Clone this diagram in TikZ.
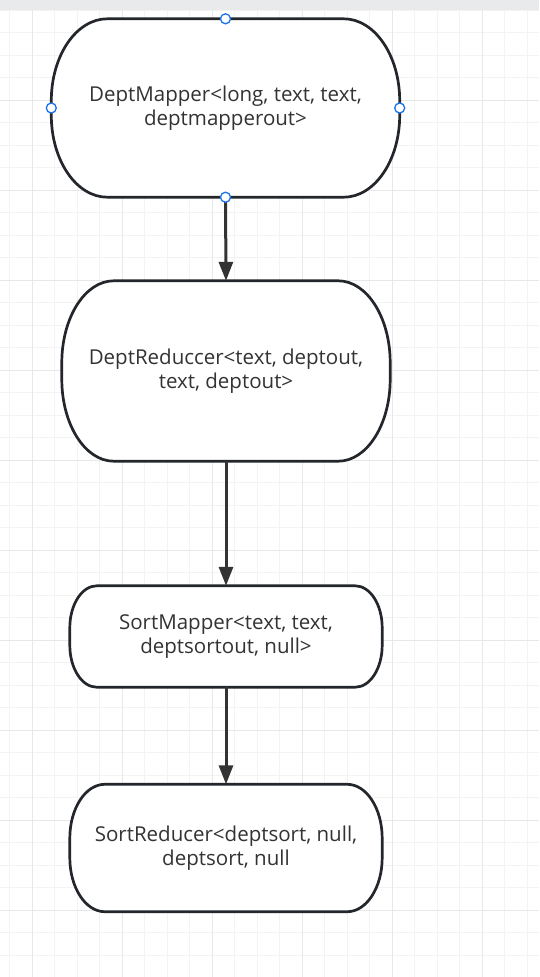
\documentclass[tikz,border=0pt]{standalone}
\usepackage{fontspec}
\setmainfont{Open Sans}
\usetikzlibrary{arrows.meta}
\pgfdeclarelayer{background}
\pgfsetlayers{background,main}
\definecolor{gridminor}{HTML}{F3F3F3}
\definecolor{gridmajor}{HTML}{E8E8E8}
\definecolor{topbar}{HTML}{E9EAEC}
\definecolor{edgegray}{HTML}{333333}
\definecolor{outline}{HTML}{23272B}
\definecolor{handle}{HTML}{1A73E8}
\definecolor{txtgray}{HTML}{333333}
\tikzset{
  job/.style 2 args={draw=none, rectangle, inner sep=0pt, minimum width=#1, minimum height=#2,
    align=center, font=\fontsize{20.5}{24}\selectfont, text=txtgray},
  flow/.style={line width=3pt, draw=edgegray, -{Triangle[length=19pt,width=14pt]}},
  pin/.style={circle, draw=handle, fill=white, line width=1.3pt, inner sep=0pt, minimum size=10pt},
}
% outline of a terminator box: node, x radius, y radius
\newcommand{\stadium}[3]{%
  \begin{pgfonlayer}{background}
  \draw[line width=2.7pt, draw=outline, fill=white]
    ([xshift=#2]#1.north west) -- ([xshift=-#2]#1.north east)
    arc[start angle=90, end angle=0, x radius=#2, y radius=#3]
    -- ([yshift=#3]#1.south east)
    arc[start angle=0, end angle=-90, x radius=#2, y radius=#3]
    -- ([xshift=#2]#1.south west)
    arc[start angle=270, end angle=180, x radius=#2, y radius=#3]
    -- ([yshift=-#3]#1.north west)
    arc[start angle=180, end angle=90, x radius=#2, y radius=#3] -- cycle;
  \end{pgfonlayer}}
\begin{document}
\begin{tikzpicture}[x=1pt, y=1pt]
    \useasboundingbox (0,0) rectangle (539,-977);
    \begin{pgfonlayer}{background}
    \fill[white] (0,0) rectangle (539,-977);
    \foreach \x in {9.5,32,...,539} \draw[gridminor, line width=1pt] (\x,-10) -- (\x,-977);
    \foreach \y in {10,32.5,...,977} \draw[gridminor, line width=1pt] (0,-\y) -- (539,-\y);
    \foreach \x in {32,122,...,539} \draw[gridmajor, line width=1pt] (\x,-10) -- (\x,-977);
    \foreach \y in {100,190,...,977} \draw[gridmajor, line width=1pt] (0,-\y) -- (539,-\y);
    \fill[topbar] (0,0) rectangle (539,-10);
    \end{pgfonlayer}
    % jobs
    \node[job={348pt}{178pt}] (mapper1) at (225.5,-108) {DeptMapper<long, text, text,\\deptmapperout>};
    \node[job={328pt}{180pt}] (reducer1) at (226,-371) {DeptReduccer<text, deptout,\\text, deptout>};
    \node[job={312pt}{101pt}] (mapper2) at (226,-636.5) {SortMapper<text, text,\\deptsortout, null>};
    \node[job={312pt}{127pt}] (reducer2) at (226,-848) {SortReducer<deptsort, null,\\deptsort, null};
    \stadium{mapper1}{56pt}{82pt}
    \stadium{reducer1}{52pt}{82pt}
    \stadium{mapper2}{27pt}{42pt}
    \stadium{reducer2}{35pt}{54pt}
    % connectors
    \draw[flow] (mapper1.south) -- (reducer1.north);
    \draw[flow] (reducer1.south) -- (mapper2.north);
    \draw[flow] (mapper2.south) -- (reducer2.north);
    % selection handles
    \node[pin] (pinN) at (mapper1.north) {};
    \node[pin] (pinS) at (mapper1.south) {};
    \node[pin] (pinW) at (mapper1.west) {};
    \node[pin] (pinE) at (mapper1.east) {};
\end{tikzpicture}
\end{document}
